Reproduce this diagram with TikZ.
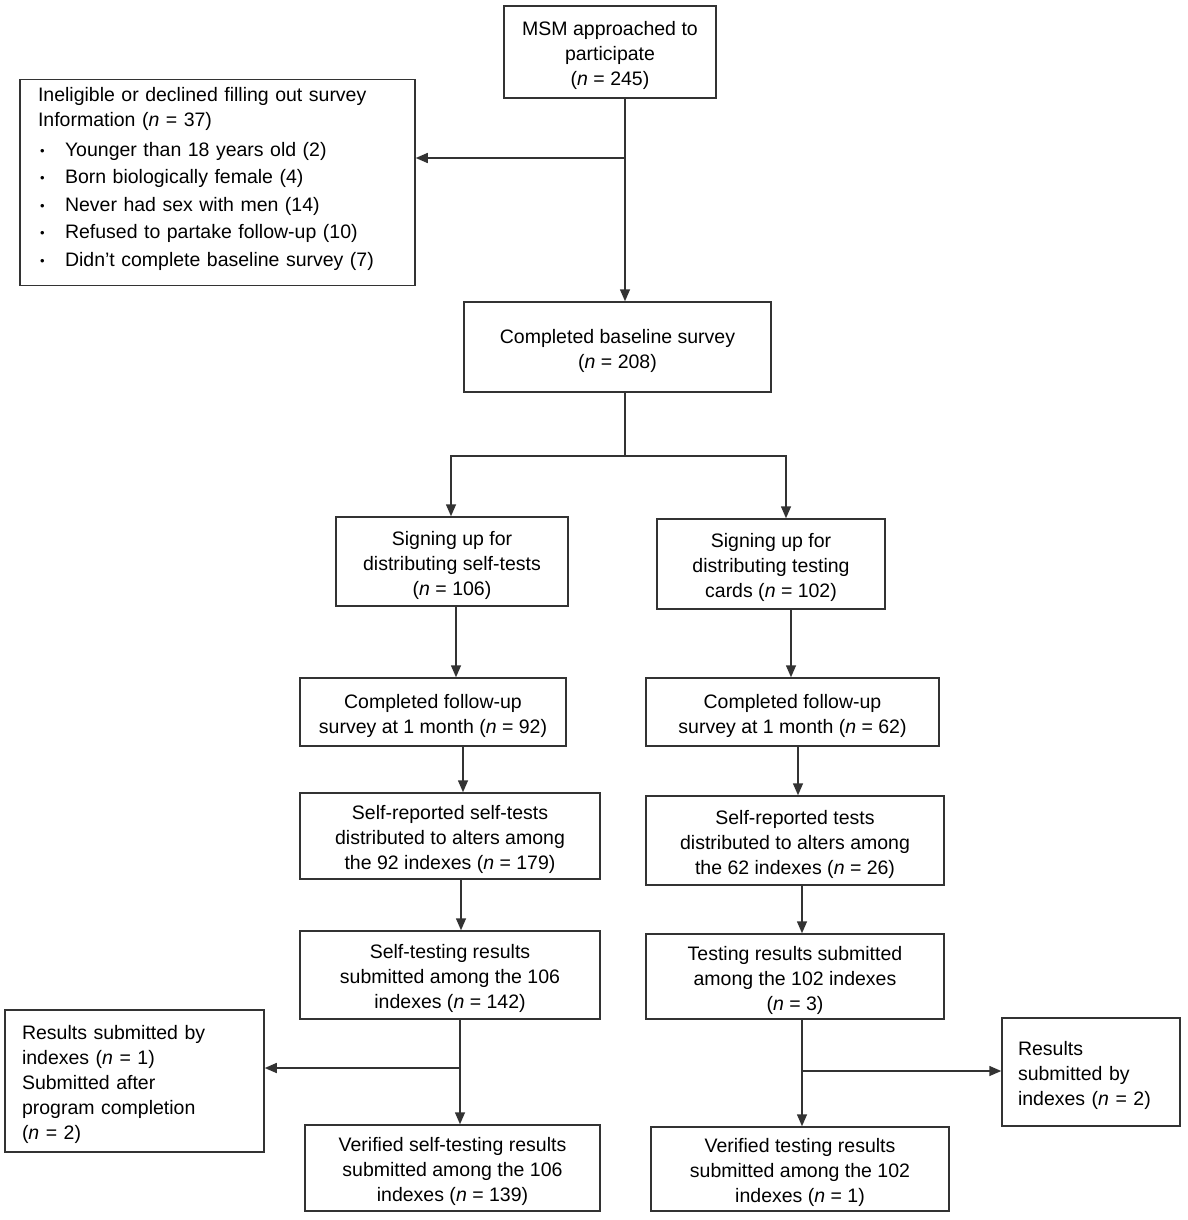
\documentclass[tikz,border=0pt]{standalone}
\usepackage{fontspec}
\setmainfont{Liberation Sans}
\usetikzlibrary{arrows.meta,calc}
\newcommand\blt{\makebox[27pt][l]{\hspace{2pt}\raisebox{1pt}{\fontsize{13}{13}\selectfont •}}}
\newcommand\tstrut{\rule{0pt}{22pt}}
\begin{document}
\begin{tikzpicture}[x=1pt,y=-1pt,
  box/.style={draw=black!80, line width=1.5pt, inner sep=0pt, align=center, font=\fontsize{19.5}{25}\selectfont},
  lbox/.style={box, align=left},
  conn/.style={draw=black!80, line width=1.5pt},
  arr/.style={conn, -{Triangle[length=12pt,width=10pt]}}]
\useasboundingbox (0,0) rectangle (1187,1220);
\fill[white] (0,0) rectangle (1187,1220);

\node[box, minimum width=212pt, minimum height=92pt] (msm) at (610,52) {\tstrut MSM approached to\\participate\\(\textit{n} = 245)};
\node[lbox, text width=359pt, inner xsep=18pt, minimum height=203pt] (inel) at (217.5,182.5) {\tstrut Ineligible or declined filling out survey\\Information (\textit{n} = 37)\\[5pt]
\blt Younger than 18 years old (2)\\[2.5pt]
\blt Born biologically female (4)\\[2.5pt]
\blt Never had sex with men (14)\\[2.5pt]
\blt Refused to partake follow-up (10)\\[2.5pt]
\blt Didn’t complete baseline survey (7)\rule[-19pt]{0pt}{0pt}};
\node[box, minimum width=307pt, minimum height=90pt] (base) at (617.5,347) {\tstrut Completed baseline survey\\(\textit{n} = 208)};
\node[box, minimum width=232pt, minimum height=89pt] (sign1) at (452,561.5) {\tstrut Signing up for\\distributing self-tests\\(\textit{n} = 106)};
\node[box, minimum width=228pt, minimum height=90pt] (sign2) at (771,564) {\tstrut Signing up for\\distributing testing\\cards (\textit{n} = 102)};
\node[box, minimum width=266pt, minimum height=68pt] (comp1) at (433,712) {\tstrut Completed follow-up\\survey at 1 month (\textit{n} = 92)};
\node[box, minimum width=293pt, minimum height=68pt] (comp2) at (792.5,712) {\tstrut Completed follow-up\\survey at 1 month (\textit{n} = 62)};
\node[box, minimum width=300pt, minimum height=86pt] (self1) at (450,836) {\tstrut Self-reported self-tests\\distributed to alters among\\the 92 indexes (\textit{n} = 179)};
\node[box, minimum width=298pt, minimum height=89pt] (self2) at (795,840.5) {\tstrut Self-reported tests\\distributed to alters among\\the 62 indexes (\textit{n} = 26)};
\node[box, minimum width=300pt, minimum height=88pt] (res1) at (450,975) {\tstrut Self-testing results\\submitted among the 106\\indexes (\textit{n} = 142)};
\node[box, minimum width=298pt, minimum height=85pt] (res2) at (795,976.5) {\tstrut Testing results submitted\\among the 102 indexes\\(\textit{n} = 3)};
\node[lbox, text width=225pt, inner xsep=17pt, minimum height=142pt] (lres) at (134.5,1081) {\tstrut Results submitted by\\indexes (\textit{n} = 1)\\Submitted after\\program completion\\(\textit{n} = 2)};
\node[box, minimum width=295pt, minimum height=86pt] (ver1) at (452.5,1168) {\tstrut Verified self-testing results\\submitted among the 106\\indexes (\textit{n} = 139)};
\node[lbox, text width=146pt, inner xsep=16pt, minimum height=108pt] (rres) at (1091,1072) {\tstrut Results\\submitted by\\indexes (\textit{n} = 2)};
\node[box, minimum width=298pt, minimum height=84pt] (ver2) at (800,1169) {\tstrut Verified testing results\\submitted among the 102\\indexes (\textit{n} = 1)};

\coordinate (j1) at (625,158);
\draw[arr] (msm.south -| j1) -- (base.north -| j1);
\draw[arr] (j1) -- (inel.east |- j1);

\coordinate (j2) at (625,456);
\coordinate (j2l) at (451,456);
\coordinate (j2r) at (786,456);
\draw[conn] (base.south -| j2) -- (j2);
\draw[arr] (j2) -- (j2l) -- (sign1.north -| j2l);
\draw[arr] (j2) -- (j2r) -- (sign2.north -| j2r);

\draw[arr] ([xshift=4pt]sign1.south) -- ([xshift=4pt]sign1.south |- comp1.north);
\draw[arr] ([xshift=20pt]sign2.south) -- ([xshift=20pt]sign2.south |- comp2.north);
\draw[arr] ([xshift=30pt]comp1.south) -- ([xshift=30pt]comp1.south |- self1.north);
\draw[arr] ([xshift=5.5pt]comp2.south) -- ([xshift=5.5pt]comp2.south |- self2.north);
\draw[arr] ([xshift=11pt]self1.south) -- ([xshift=11pt]self1.south |- res1.north);
\draw[arr] ([xshift=7pt]self2.south) -- ([xshift=7pt]self2.south |- res2.north);

\coordinate (j3) at (460,1068);
\draw[arr] (res1.south -| j3) -- (ver1.north -| j3);
\draw[arr] (j3) -- (lres.east |- j3);
\coordinate (j4) at (802,1071);
\draw[arr] (res2.south -| j4) -- (ver2.north -| j4);
\draw[arr] (j4) -- (rres.west |- j4);
\end{tikzpicture}
\end{document}
